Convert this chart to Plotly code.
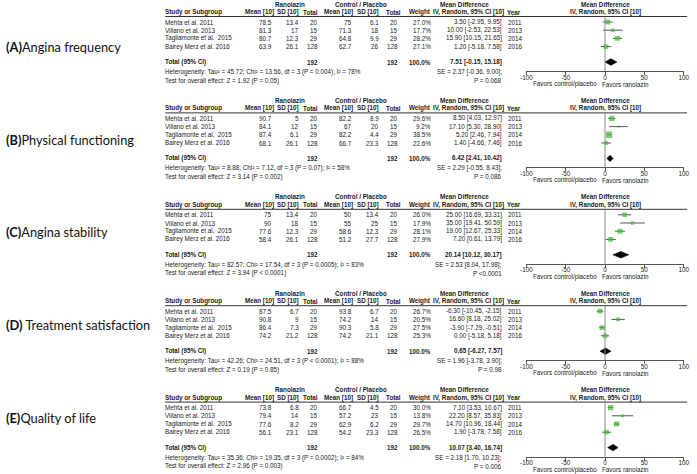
import plotly.graph_objects as go

W, H = 697, 474

# ---------------- data ----------------
panel_letters = ["A", "B", "C", "D", "E"]
outcomes = ["Angina frequency", "Physical functioning", "Angina stability",
            "Treatment satisfaction", "Quality of life"]
studies = ["Mehta et al. 2011", "Villano et al. 2013",
           "Tagliamonte et al.\u00a0 2015", "Bairey Merz et al. 2016"]
years = [2011, 2013, 2014, 2016]
ran_total = [20, 15, 29, 128]
ctl_total = [20, 15, 29, 128]
total_weight = 100.0
axis_ticks = [-100, -50, 0, 50, 100]

# (A) Angina frequency
a_ran_mean = [78.5, 81.3, 80.7, 63.9]
a_ran_sd = [13.4, 17, 12.3, 26.1]
a_ctl_mean = [75, 71.3, 64.8, 62.7]
a_ctl_sd = [6.1, 18, 9.9, 26]
a_weight = [27.0, 17.7, 28.2, 27.1]
a_md = [3.50, 10.00, 15.90, 1.20]
a_lo = [-2.95, -2.53, 10.15, -5.18]
a_hi = [9.95, 22.53, 21.65, 7.58]
a_pooled = [7.51, -0.15, 15.18]
a_het = [45.72, 13.56, 3, "P = 0.004", 78]
a_effect = [1.92, "P = 0.05"]
a_se = [2.37, -0.36, 9.00, "P = 0.068"]

# (B) Physical functioning
b_ran_mean = [90.7, 84.1, 87.4, 68.1]
b_ran_sd = [5, 12, 6.1, 26.1]
b_ctl_mean = [82.2, 67, 82.2, 66.7]
b_ctl_sd = [8.9, 20, 4.4, 23.3]
b_weight = [29.6, 9.2, 38.5, 22.6]
b_md = [8.50, 17.10, 5.20, 1.40]
b_lo = [4.03, 5.30, 2.46, -4.66]
b_hi = [12.97, 28.90, 7.94, 7.46]
b_pooled = [6.42, 2.41, 10.42]
b_het = [8.88, 7.12, 3, "P = 0.07", 58]
b_effect = [3.14, "P = 0.002"]
b_se = [2.29, -0.55, 8.43, "P = 0.086"]

# (C) Angina stability
c_ran_mean = [75, 90, 77.6, 58.4]
c_ran_sd = [13.4, 18, 12.3, 26.1]
c_ctl_mean = [50, 55, 58.6, 51.2]
c_ctl_sd = [13.4, 25, 12.3, 27.7]
c_weight = [26.0, 17.9, 28.1, 27.9]
c_md = [25.00, 35.00, 19.00, 7.20]
c_lo = [16.69, 19.41, 12.67, 0.61]
c_hi = [33.31, 50.59, 25.33, 13.79]
c_pooled = [20.14, 10.12, 30.17]
c_het = [82.57, 17.54, 3, "P = 0.0005", 83]
c_effect = [3.94, "P < 0.0001"]
c_se = [2.53, 8.04, 17.98, "P <0.0001"]

# (D) Treatment satisfaction
d_ran_mean = [87.5, 90.8, 86.4, 74.2]
d_ran_sd = [6.7, 9, 7.3, 21.2]
d_ctl_mean = [93.8, 74.2, 90.3, 74.2]
d_ctl_sd = [6.7, 14, 5.8, 21.1]
d_weight = [26.7, 20.5, 27.5, 25.3]
d_md = [-6.30, 16.60, -3.90, 0.00]
d_lo = [-10.45, 8.18, -7.29, -5.18]
d_hi = [-2.15, 25.02, -0.51, 5.18]
d_pooled = [0.65, -6.27, 7.57]
d_het = [42.26, 24.51, 3, "P < 0.0001", 88]
d_effect = [0.19, "P = 0.85"]
d_se = [1.96, -3.78, 3.90, "P = 0.98"]

# (E) Quality of life
e_ran_mean = [73.8, 79.4, 77.6, 56.1]
e_ran_sd = [6.8, 14, 8.2, 23.1]
e_ctl_mean = [66.7, 57.2, 62.9, 54.2]
e_ctl_sd = [4.5, 23, 6.2, 23.3]
e_weight = [30.0, 13.8, 29.7, 26.5]
e_md = [7.10, 22.20, 14.70, 1.90]
e_lo = [3.53, 8.57, 10.96, -3.78]
e_hi = [10.67, 35.83, 18.44, 7.58]
e_pooled = [10.07, 3.40, 16.74]
e_het = [35.36, 19.35, 3, "P = 0.0002", 84]
e_effect = [2.96, "P = 0.003"]
e_se = [2.18, 1.70, 10.23, "P = 0.006"]

panels = [
    dict(rm=a_ran_mean, rs=a_ran_sd, cm=a_ctl_mean, cs=a_ctl_sd, w=a_weight, md=a_md, lo=a_lo, hi=a_hi,
         pooled=a_pooled, het=a_het, eff=a_effect, se=a_se),
    dict(rm=b_ran_mean, rs=b_ran_sd, cm=b_ctl_mean, cs=b_ctl_sd, w=b_weight, md=b_md, lo=b_lo, hi=b_hi,
         pooled=b_pooled, het=b_het, eff=b_effect, se=b_se),
    dict(rm=c_ran_mean, rs=c_ran_sd, cm=c_ctl_mean, cs=c_ctl_sd, w=c_weight, md=c_md, lo=c_lo, hi=c_hi,
         pooled=c_pooled, het=c_het, eff=c_effect, se=c_se),
    dict(rm=d_ran_mean, rs=d_ran_sd, cm=d_ctl_mean, cs=d_ctl_sd, w=d_weight, md=d_md, lo=d_lo, hi=d_hi,
         pooled=d_pooled, het=d_het, eff=d_effect, se=d_se),
    dict(rm=e_ran_mean, rs=e_ran_sd, cm=e_ctl_mean, cs=e_ctl_sd, w=e_weight, md=e_md, lo=e_lo, hi=e_hi,
         pooled=e_pooled, het=e_het, eff=e_effect, se=e_se),
]

# ---------------- layout constants (pixels) ----------------
PT = 96.4          # vertical pitch of the table blocks
PH = 88            # height of one block
LP = 92.75         # vertical pitch of the left labels
LABEL0 = 47
H1, H2, HLINE = 4, 12, 16.5
ROW0, RP = 22, 8.2
TOT, HET, TEST, AX, FAV = 62, 72, 80.5, 71, 84
FX0, FX1 = 529.5, 689.5   # forest axis pixel extent

STUDY_L = 162
C_RM, C_RS, C_RT = 271, 298, 317
C_CM, C_CS, C_CT = 352, 379.5, 399
C_W, C_CI, C_YR = 432, 504.5, 511
FONT = "Liberation Sans, Arial, sans-serif"
FS = 6.3
TC = "#222222"
GREEN = "#3dbb2e"

fig = go.Figure()
annotations = []
shapes = []
axes = {}


def fmt(v):
    return f"{v:g}"


def txt(x, y, s, yref, anchor="left", bold=False, size=FS):
    annotations.append(dict(
        x=x / W, y=y, xref="paper", yref=yref,
        text=f"<b>{s}</b>" if bold else s, showarrow=False,
        xanchor=anchor, yanchor="middle", borderpad=0, borderwidth=0,
        font=dict(family=FONT, size=size, color=TC)))


for k, p in enumerate(panels):
    idx = "" if k == 0 else str(k + 1)
    xr, yr = "x" + idx, "y" + idx
    top = k * PT
    axes["xaxis" + idx] = dict(
        domain=[FX0 / W, FX1 / W], range=[-100, 100], anchor="free",
        position=1 - (top + AX) / H,
        showgrid=False, zeroline=False, showline=True, linecolor="#555555", linewidth=1,
        ticks="outside", ticklen=3, tickcolor="#555555", tickwidth=1,
        tickvals=axis_ticks, ticktext=[str(t) for t in axis_ticks],
        tickfont=dict(family=FONT, size=FS, color=TC), ticklabelstandoff=-3,
        ticklabeloverflow="allow", fixedrange=True)
    axes["yaxis" + idx] = dict(
        domain=[max(0, 1 - (top + PH) / H), 1 - top / H], range=[PH, 0], anchor=xr,
        visible=False, fixedrange=True)

    rows = [ROW0 + i * RP for i in range(len(studies))]

    # header
    txt(289, H1, "Ranolazin", yr, "center", True)
    txt(361, H1, "Control / Placebo", yr, "center", True)
    txt(467, H1, "Mean Difference", yr, "center", True)
    txt((FX0 + FX1) / 2, H1, "Mean Difference", yr, "center", True)
    txt(STUDY_L, H2, "Study or Subgroup", yr, "left", True)
    txt(C_RM + 1.5, H2, "Mean [10]", yr, "right", True)
    txt(C_RS, H2, "SD [10]", yr, "right", True)
    txt(C_RT, H2, "Total", yr, "right", True)
    txt(C_CM + 1, H2, "Mean [10]", yr, "right", True)
    txt(C_CS + 0.5, H2, "SD [10]", yr, "right", True)
    txt(C_CT + 2.5, H2, "Total", yr, "right", True)
    txt(C_W, H2, "Weight", yr, "right", True)
    txt(470.5, H2, "IV, Random, 95% CI [10]", yr, "center", True)
    txt(C_YR - 1, H2, "Year", yr, "left", True)
    txt((FX0 + FX1) / 2, H2, "IV, Random, 95% CI [10]", yr, "center", True)
    shapes.append(dict(type="line", xref="paper", yref=yr, x0=STUDY_L / W, x1=693 / W,
                       y0=HLINE, y1=HLINE, line=dict(color="#333333", width=1)))

    # study rows
    for i, s in enumerate(studies):
        y = rows[i]
        txt(STUDY_L, y, s, yr, "left")
        txt(C_RM, y, fmt(p["rm"][i]), yr, "right")
        txt(C_RS, y, fmt(p["rs"][i]), yr, "right")
        txt(C_RT, y, str(ran_total[i]), yr, "right")
        txt(C_CM, y, fmt(p["cm"][i]), yr, "right")
        txt(C_CS, y, fmt(p["cs"][i]), yr, "right")
        txt(C_CT, y, str(ctl_total[i]), yr, "right")
        txt(C_W, y, f"{p['w'][i]:.1f}%", yr, "right")
        txt(C_CI, y, f"{p['md'][i]:.2f} [{p['lo'][i]:.2f}, {p['hi'][i]:.2f}]", yr, "right")
        txt(C_YR, y, str(years[i]), yr, "left")

    # totals
    pm, pl, ph = p["pooled"]
    txt(STUDY_L, TOT, "Total (95% CI)", yr, "left", True)
    txt(C_RT, TOT, str(sum(ran_total)), yr, "right", True)
    txt(C_CT, TOT, str(sum(ctl_total)), yr, "right", True)
    txt(C_W, TOT, f"{total_weight:.1f}%", yr, "right", True)
    txt(C_CI, TOT, f"{pm:.2f} [{pl:.2f}, {ph:.2f}]", yr, "right", True)
    tau, chi, df, hp, i2 = p["het"]
    txt(STUDY_L, HET, f"Heterogeneity: Tau² = {tau:.2f}; Chi² = {chi:.2f}, df = {df} ({hp}); I² = {i2}%", yr, "left")
    z, zp = p["eff"]
    txt(STUDY_L, TEST, f"Test for overall effect: Z = {z:.2f} ({zp})", yr, "left")
    se, sl, sh, sp = p["se"]
    txt(C_CI, HET, f"SE = {se:.2f} [{sl:.2f}, {sh:.2f}];", yr, "right")
    txt(C_CI, TEST, sp, yr, "right")
    txt(601, FAV, "Favors control/placebo", yr, "right")
    txt(606, FAV, "Favors ranolazin", yr, "left")

    # zero line
    shapes.append(dict(type="line", xref=xr, yref=yr, x0=0, x1=0, y0=HLINE, y1=AX,
                       line=dict(color="#8a8a8a", width=1)))

    # CI whiskers
    cx, cy = [], []
    for i in range(len(studies)):
        cx += [p["lo"][i], p["hi"][i], None]
        cy += [rows[i], rows[i], None]
    fig.add_trace(go.Scatter(x=cx, y=cy, xaxis=xr, yaxis=yr, mode="lines",
                             line=dict(color="#555555", width=1), hoverinfo="skip", showlegend=False))
    # squares
    fig.add_trace(go.Scatter(x=p["md"], y=rows, xaxis=xr, yaxis=yr, mode="markers",
                             marker=dict(symbol="square", color=GREEN,
                                         size=[1.0 + 0.14 * w for w in p["w"]],
                                         line=dict(width=0)),
                             hoverinfo="skip", showlegend=False))
    # diamond
    dh = 3.2
    fig.add_trace(go.Scatter(x=[pl, pm, ph, pm, pl], y=[TOT, TOT - dh, TOT, TOT + dh, TOT],
                             xaxis=xr, yaxis=yr, mode="lines", fill="toself",
                             fillcolor="black", line=dict(color="black", width=0.6),
                             hoverinfo="skip", showlegend=False))

    # left label
    annotations.append(dict(
        x=0, y=1 - (LABEL0 + k * LP) / H, xref="paper", yref="paper",
        text=f"<b>({panel_letters[k]})</b>{' ' if panel_letters[k] == 'D' else ''}{outcomes[k]}",
        showarrow=False, xanchor="left", yanchor="middle", borderpad=0, borderwidth=0,
        font=dict(family="Lato, Carlito, sans-serif", size=12.8, color="#111111")))

fig.update_layout(
    width=W, height=H, margin=dict(l=0, r=0, t=0, b=0),
    paper_bgcolor="white", plot_bgcolor="white",
    annotations=annotations, shapes=shapes, **axes)

fig.write_html("out.html", config={"staticPlot": True},
               post_script="document.body.style.margin='0';document.body.style.padding='0';"
                           "document.body.style.overflow='hidden';")
